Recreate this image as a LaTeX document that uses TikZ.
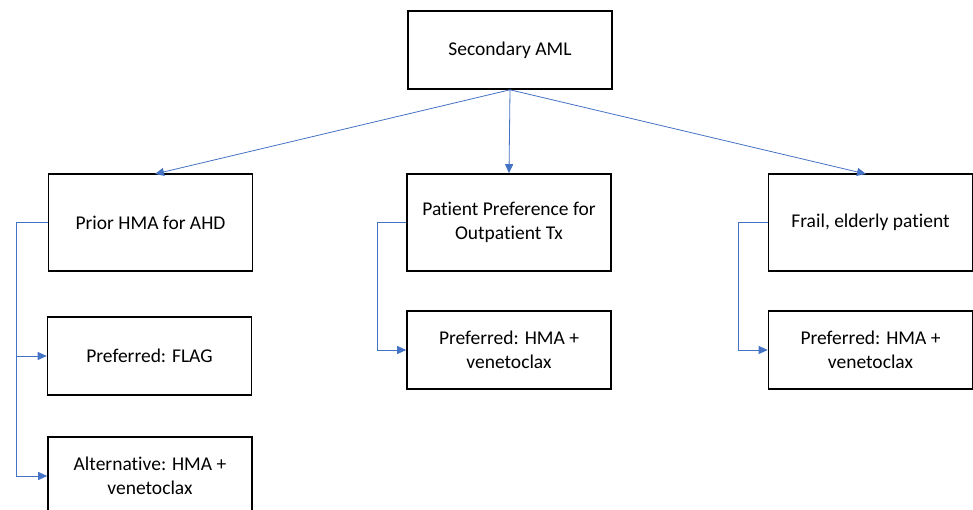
\documentclass[tikz,border=0pt]{standalone}
\usepackage{fontspec}
\setmainfont{Carlito}[Ligatures=NoCommon]
\usepackage{xcolor}
\usetikzlibrary{arrows.meta,positioning}
\definecolor{linkblue}{HTML}{4472C4}

\begin{document}
\begin{tikzpicture}[x=1pt, y=-1pt,
  box/.style={rectangle, draw=black, line width=1.6pt, fill=white, minimum width=204pt, minimum height=78pt, align=center, font=\fontsize{19.5}{24}\selectfont},
  tallbox/.style={box, minimum height=97pt},
  link/.style={draw=linkblue, line width=0.8pt, -{Triangle[length=9pt, width=8pt]}}]
\useasboundingbox (0,0) rectangle (973,510);
% --- Top node ---
\node[box] (aml) at (510,50) {Secondary AML};
% --- Second row ---
\node[tallbox] (prior) at (150.5,222.5) {Prior HMA for AHD};
\node[tallbox] (outpt) at (509,222.5) {Patient Preference for\\Outpatient Tx};
\node[tallbox] (frail) at (870.5,222.5) {Frail, elderly patient};
% --- Treatment options ---
\node[box] (flag) at (149.5,356) {Preferred: FLAG};
\node[box] (altven) at (150,476) {Alternative: HMA +\\venetoclax};
\node[box] (outven) at (509,350) {Preferred: HMA +\\venetoclax};
\node[box] (frailven) at (870.5,350) {Preferred: HMA +\\venetoclax};
% Arrows from the top node
\draw[link] (aml.south) -- (155,174);
\draw[link] (aml.south) -- (outpt.north);
\draw[link] (aml.south) -- (866,174);
% Elbow connectors
\draw[link] (prior.west) -- (16,222.5) |- (flag.west);
\draw[link] (16,222.5) |- (altven.west);
\draw[link] (outpt.west) -- (377,222.5) |- (outven.west);
\draw[link] (frail.west) -- (738,222.5) |- (frailven.west);
\end{tikzpicture}
\end{document}
